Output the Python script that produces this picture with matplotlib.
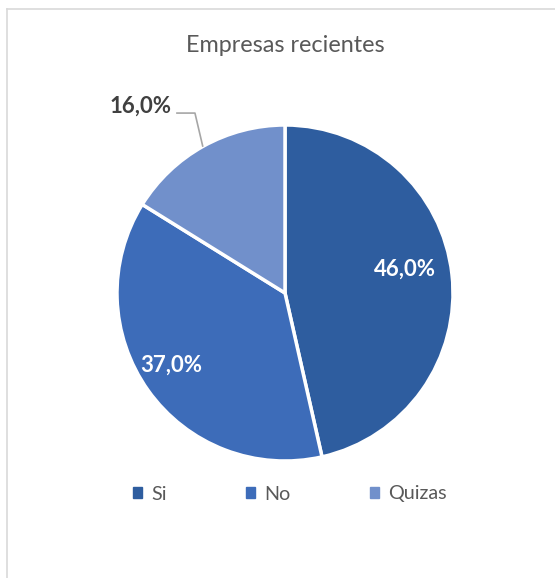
import matplotlib
matplotlib.use("Agg")
import matplotlib.pyplot as plt
from matplotlib.lines import Line2D

categories = ["Si", "No", "Quizas"]
values = [46.0, 37.0, 16.0]
labels = ["46,0%", "37,0%", "16,0%"]
colors = ["#2E5D9F", "#3D6CB9", "#7190CB"]

plt.rcParams['font.family'] = ['Lato', 'DejaVu Sans']

W, H = 555, 578
fig = plt.figure(figsize=(W / 100, H / 100), dpi=100)
fig.patch.set_facecolor("white")

# outer chart frame (partly visible)
fig.add_artist(Line2D([7 / W, 7 / W], [0, 1 - 9 / H], transform=fig.transFigure, color="#D9D9D9", lw=1.2))
fig.add_artist(Line2D([7 / W, 1], [1 - 9 / H, 1 - 9 / H], transform=fig.transFigure, color="#D9D9D9", lw=1.2))

cx, cy, r = 285, 293, 168
ax = fig.add_axes([(cx - r) / W, 1 - (cy + r) / H, 2 * r / W, 2 * r / H])
wedges, _ = ax.pie(values, colors=colors, startangle=90, counterclock=False,
                   wedgeprops=dict(edgecolor="white", linewidth=2.5))
ax.set_xlim(-1, 1)
ax.set_ylim(-1, 1)
ax.set_aspect("equal")
ax.axis("off")

# data labels
ax.text(0.714, 0.14, labels[0], color="white", fontsize=16, fontweight="bold", ha="center", va="center")
ax.text(-0.679, -0.43, labels[1], color="white", fontsize=16, fontweight="bold", ha="center", va="center")
ax.text(-0.857, 1.11, labels[2], color="#404040", fontsize=16, fontweight="bold", ha="center", va="center")
ax.plot([-0.643, -0.536, -0.49], [1.071, 1.071, 0.875], color="#A6A6A6", lw=1.2, clip_on=False)

fig.text(cx / W, 1 - 45 / H, "Empresas recientes", color="#595959", fontsize=16.8, ha="center", va="center")

handles = [plt.Rectangle((0, 0), 1, 1, color=c) for c in colors]
fig.legend(handles, categories, loc="center", bbox_to_anchor=(290 / W, 1 - 494 / H), ncol=3,
           frameon=False, fontsize=14.2, handlelength=0.45, handleheight=0.45, handletextpad=0.5,
           columnspacing=4.0, labelcolor="#595959")

fig.savefig("out.png", dpi=100, facecolor="white")
